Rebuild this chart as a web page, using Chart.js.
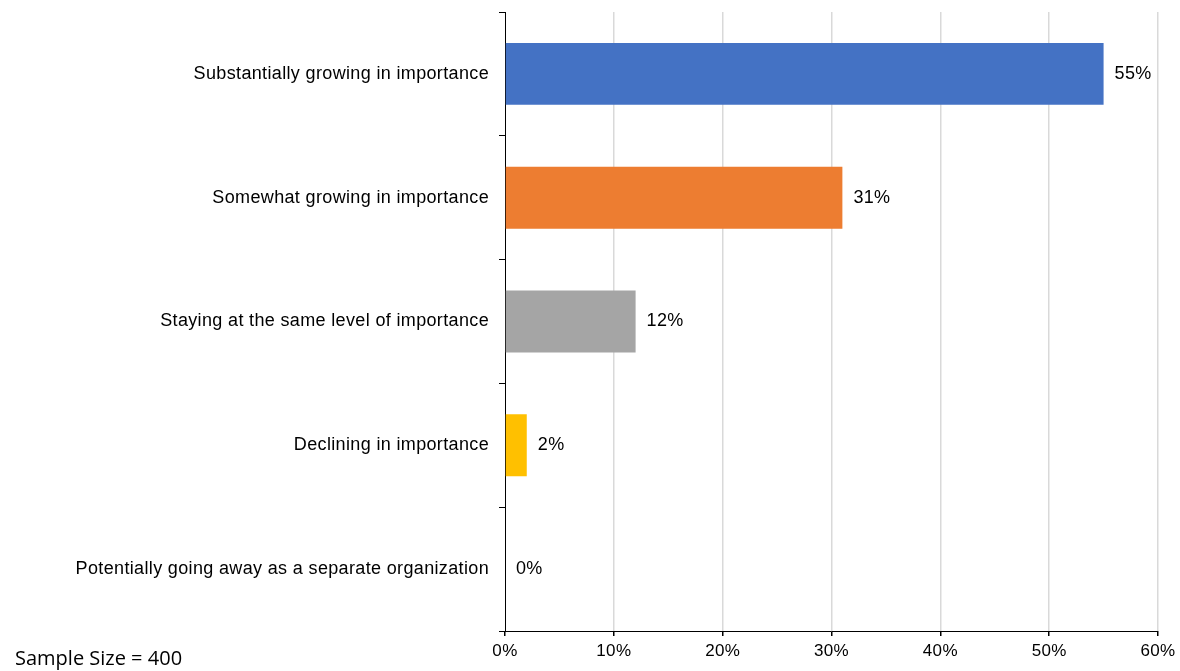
<!DOCTYPE html>
<html><head><meta charset="utf-8">
<script src="https://cdn.jsdelivr.net/npm/chart.js@4"></script>
<style>
html,body{margin:0;padding:0;background:#fff;}
#wrap{position:relative;width:1180px;height:671px;}
#note{position:absolute;left:15px;top:647px;font-family:"Open Sans","Noto Sans",sans-serif;font-size:20px;color:#000;line-height:22px;}
</style></head>
<body>
<div id="wrap"><canvas id="c" width="1180" height="671"></canvas><div id="note">Sample Size = 400</div></div>
<script>
const categories = [
  "Substantially growing in importance",
  "Somewhat growing in importance",
  "Staying at the same level of importance",
  "Declining in importance",
  "Potentially going away as a separate organization"
];
const values = [55, 31, 12, 2, 0];
const barColors = ["#4472C4", "#ED7D31", "#A5A5A5", "#FFC000", "#5B9BD5"];
const xTicks = [0, 10, 20, 30, 40, 50, 60];

const FONT = '"Liberation Sans", Arial, sans-serif';

const labelPlugin = {
  id: 'vals',
  beforeDraw(chart) { chart.ctx.letterSpacing = '0.35px'; },
  afterDatasetsDraw(chart) {
    const ctx = chart.ctx;
    const meta = chart.getDatasetMeta(0);
    ctx.save();
    ctx.font = '18px ' + FONT;
    ctx.fillStyle = '#000';
    ctx.textBaseline = 'middle';
    ctx.textAlign = 'left';
    meta.data.forEach((el, i) => {
      ctx.fillText(values[i] + '%', el.x + 11, el.y);
    });
    ctx.restore();
  }
};

const canvas = document.getElementById('c');
canvas.getContext('2d').letterSpacing = '0.35px';

new Chart(canvas, {
  type: 'bar',
  data: {
    labels: categories,
    datasets: [{ data: values, backgroundColor: barColors, barPercentage: 0.5, categoryPercentage: 1.0 }]
  },
  options: {
    indexAxis: 'y',
    responsive: false,
    animation: false,
    layout: { padding: { top: 12, right: 22, left: 0, bottom: 0 } },
    plugins: { legend: { display: false }, tooltip: { enabled: false } },
    scales: {
      x: {
        min: 0, max: 60,
        afterBuildTicks(scale) { scale.ticks = xTicks.map(v => ({ value: v })); },
        ticks: { callback: v => v + '%', color: '#000', padding: 5, font: { family: FONT, size: 17 }, maxRotation: 0 },
        grid: { color: ctx => ctx.tick && ctx.tick.value === 0 ? 'rgba(0,0,0,0)' : '#d9d9d9', lineWidth: 1.5, tickColor: '#000', tickLength: 5 },
        border: { color: '#000', width: 1 },
        afterFit(scale) { scale.height = 40; scale.paddingLeft = 0; scale.paddingRight = 0; }
      },
      y: {
        ticks: { color: '#000', padding: 10, font: { family: FONT, size: 18 } },
        grid: { offset: true, drawOnChartArea: false, tickColor: '#000', tickLength: 6, lineWidth: 1 },
        border: { color: '#000', width: 1 },
        afterFit(scale) { scale.width = 505; scale.paddingTop = 0; scale.paddingBottom = 0; }
      }
    }
  },
  plugins: [labelPlugin]
});
</script>
</body></html>
